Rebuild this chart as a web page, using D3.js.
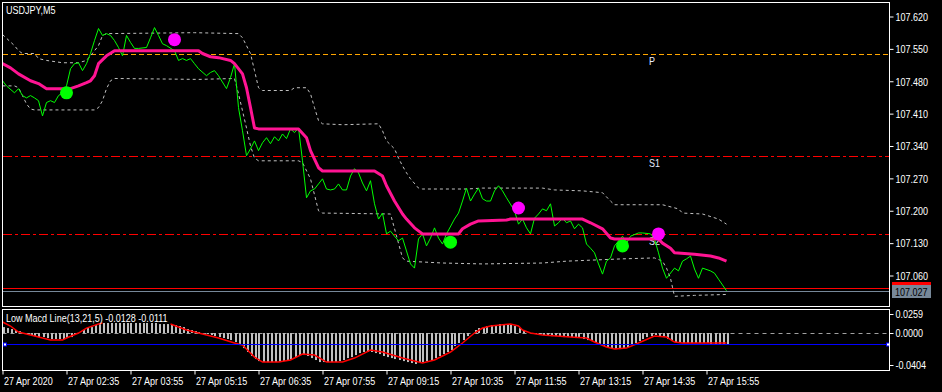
<!DOCTYPE html>
<html>
<head>
<meta charset="utf-8">
<script src="https://cdn.jsdelivr.net/npm/d3@7/dist/d3.min.js"></script>
<style>
  body { margin: 0; background: #000; }
  svg { display: block; }
  text { font-family: "Liberation Sans", sans-serif; fill: #fff; }
</style>
</head>
<body>
<script>
// ---- data (bar index = 5 min step from 27 Apr 01:15) ----
var timeTicks = [0, 16, 32, 48, 64, 80, 96, 112, 128, 144, 160, 176];
var timeLabels = ["27 Apr 2020", "27 Apr 02:35", "27 Apr 03:55", "27 Apr 05:15", "27 Apr 06:35",
  "27 Apr 07:55", "27 Apr 09:15", "27 Apr 10:35", "27 Apr 11:55", "27 Apr 13:15", "27 Apr 14:35", "27 Apr 15:55"];
var priceTicks = [107.62, 107.55, 107.48, 107.41, 107.34, 107.27, 107.20, 107.13, 107.06];

// close price line [bar, price]
var closeLine = [[0,107.481],[1,107.470],[3,107.455],[4,107.464],[5,107.449],[6,107.444],[7,107.449],[8,107.444],
  [9,107.438],[10,107.405],[11,107.434],[12,107.438],[13,107.434],[14,107.449],[15,107.455],[16,107.470],
  [17,107.507],[18,107.518],[19,107.520],[20,107.503],[21,107.518],[22,107.540],[23,107.568],[24,107.594],
  [25,107.579],[26,107.583],[27,107.579],[28,107.568],[29,107.553],[30,107.535],[31,107.579],[32,107.564],
  [33,107.551],[34,107.551],[36,107.553],[37,107.574],[38,107.596],[39,107.579],[40,107.561],[41,107.557],
  [43,107.546],[44,107.525],[45,107.529],[46,107.525],[47,107.529],[48,107.518],[49,107.507],[51,107.492],
  [52,107.499],[53,107.503],[54,107.492],[56,107.464],[57,107.488],[58,107.518],[59,107.423],[60,107.373],
  [61,107.319],[62,107.334],[63,107.351],[64,107.330],[65,107.347],[66,107.358],[67,107.345],[68,107.360],
  [69,107.351],[70,107.366],[71,107.356],[72,107.377],[73,107.369],[74,107.379],[75,107.308],[76,107.228],
  [77,107.243],[78,107.247],[79,107.258],[80,107.269],[81,107.247],[82,107.245],[83,107.247],[84,107.258],
  [85,107.245],[86,107.245],[87,107.275],[88,107.291],[89,107.282],[90,107.260],[91,107.243],[92,107.265],
  [93,107.215],[94,107.182],[95,107.195],[96,107.150],[97,107.156],[98,107.145],[99,107.135],[100,107.141],
  [101,107.113],[102,107.085],[103,107.076],[104,107.139],[105,107.150],[106,107.124],[107,107.141],[108,107.163],
  [109,107.141],[110,107.128],[111,107.150],[113,107.182],[114,107.195],[115,107.221],[116,107.249],[117,107.221],
  [118,107.236],[119,107.249],[120,107.226],[121,107.221],[122,107.221],[123,107.243],[124,107.254],[125,107.243],
  [126,107.228],[128,107.200],[129,107.171],[130,107.182],[131,107.163],[132,107.150],[133,107.184],[134,107.193],
  [135,107.204],[136,107.200],[137,107.215],[138,107.167],[139,107.174],[140,107.184],[141,107.174],[142,107.178],
  [143,107.161],[144,107.171],[145,107.163],[146,107.128],[147,107.119],[148,107.109],[149,107.085],[150,107.063],
  [151,107.091],[152,107.098],[153,107.124],[155,107.145],[156,107.130],[157,107.145],[159,107.152],[160,107.152],
  [162,107.150],[163,107.139],[164,107.109],[165,107.076],[166,107.054],[168,107.076],[169,107.070],[170,107.091],
  [171,107.096],[172,107.102],[173,107.074],[174,107.054],[175,107.076],[177,107.070],[178,107.065],[179,107.052],
  [181,107.027]];

// middle (thick pink) line
var midLine = [[0,107.518],[2,107.509],[4,107.496],[7,107.481],[9,107.475],[11,107.464],[17,107.464],[19,107.470],
  [21,107.477],[22,107.481],[23,107.492],[24,107.518],[26,107.535],[28,107.546],[49,107.546],[50,107.540],
  [52,107.533],[54,107.531],[57,107.525],[58,107.518],[60,107.496],[61,107.466],[62,107.423],[63,107.379],
  [64,107.377],[74,107.377],[76,107.358],[77,107.330],[79,107.293],[80,107.286],[93,107.286],[95,107.275],
  [96,107.254],[98,107.221],[100,107.193],[101,107.182],[103,107.163],[105,107.150],[114,107.150],[115,107.161],
  [117,107.171],[119,107.178],[126,107.180],[127,107.182],[145,107.182],[147,107.174],[150,107.161],[152,107.141],
  [153,107.139],[164,107.139],[165,107.130],[167,107.119],[168,107.109],[173,107.106],[177,107.102],[179,107.098],
  [181,107.091]];

// upper and lower band (dashed)
var upperBand = [[0,107.581],[3,107.557],[4,107.546],[5,107.540],[8,107.540],[9,107.529],[11,107.525],[15,107.520],
  [19,107.520],[21,107.525],[22,107.535],[24,107.557],[25,107.579],[26,107.583],[48,107.585],[59,107.583],
  [60,107.574],[62,107.540],[63,107.503],[64,107.466],[65,107.460],[72,107.460],[73,107.466],[76,107.466],
  [77,107.453],[78,107.423],[79,107.395],[80,107.388],[85,107.386],[94,107.388],[95,107.373],[96,107.351],
  [98,107.334],[99,107.314],[100,107.297],[101,107.282],[102,107.269],[104,107.249],[105,107.247],[116,107.247],
  [120,107.249],[135,107.249],[138,107.245],[145,107.243],[150,107.239],[152,107.221],[153,107.213],[165,107.213],
  [169,107.204],[170,107.195],[175,107.193],[179,107.182],[181,107.171]];
var lowerBand = [[0,107.470],[3,107.470],[4,107.466],[5,107.449],[6,107.431],[7,107.420],[8,107.418],[23,107.418],
  [24,107.423],[25,107.438],[26,107.464],[27,107.481],[28,107.486],[49,107.484],[58,107.486],[59,107.453],
  [60,107.416],[61,107.379],[62,107.340],[63,107.314],[64,107.308],[74,107.308],[75,107.304],[77,107.269],
  [79,107.200],[80,107.195],[97,107.193],[100,107.098],[101,107.091],[110,107.087],[120,107.085],[135,107.087],
  [141,107.091],[155,107.096],[163,107.098],[165,107.091],[166,107.076],[167,107.054],[168,107.015],[173,107.017],
  [181,107.019]];

// signal dots
var buyDots = [[16,107.455],[112,107.132],[155,107.124]];
var sellDots = [[43,107.570],[129,107.206],[164,107.150]];

// pivot levels
var levelNames = ["P", "S1", "S2"];
var levelValues = [107.538, 107.319, 107.149];
var bidPrice = 107.027, askPrice = 107.033;

// Low Macd Line subwindow
var macdHist = [0.0067,0.0056,0.0045,0.0034,0.0022,
  0.0000,-0.0011,-0.0022,-0.0034,-0.0045,-0.0045,
  -0.0056,-0.0067,-0.0067,-0.0067,-0.0067,
  -0.0056,-0.0045,-0.0022,0.0000,
  0.0034,0.0056,0.0067,
  0.0090,0.0101,0.0113,0.0113,0.0113,0.0113,0.0113,0.0113,0.0113,0.0113,0.0113,0.0113,0.0113,0.0113,0.0113,0.0113,
  0.0101,0.0101,0.0101,0.0101,
  0.0090,0.0079,0.0067,0.0045,0.0034,
  0.0022,0.0011,0.0000,
  -0.0011,-0.0022,-0.0034,-0.0045,-0.0056,-0.0067,-0.0079,-0.0101,
  -0.0135,-0.0169,-0.0213,-0.0258,-0.0292,
  -0.0315,-0.0326,-0.0326,-0.0326,-0.0326,-0.0326,-0.0315,-0.0303,-0.0292,-0.0270,
  -0.0247,-0.0247,-0.0258,-0.0281,-0.0303,
  -0.0326,-0.0326,-0.0326,-0.0326,-0.0326,-0.0315,
  -0.0303,-0.0281,-0.0270,-0.0247,-0.0225,-0.0213,-0.0213,
  -0.0213,-0.0225,-0.0236,-0.0258,-0.0270,-0.0281,-0.0292,-0.0303,
  -0.0315,-0.0326,-0.0337,-0.0348,-0.0337,
  -0.0326,-0.0315,-0.0303,-0.0281,-0.0258,-0.0236,-0.0213,-0.0191,
  -0.0146,-0.0112,-0.0079,-0.0034,
  0.0000,0.0034,0.0056,
  0.0067,0.0079,0.0090,0.0090,0.0101,0.0101,0.0101,0.0101,
  0.0079,0.0056,0.0034,
  0.0000,-0.0011,-0.0011,-0.0022,-0.0022,-0.0022,-0.0034,-0.0034,-0.0034,-0.0045,-0.0045,
  -0.0045,-0.0056,-0.0056,-0.0067,-0.0079,-0.0090,-0.0101,
  -0.0124,-0.0146,-0.0157,-0.0169,-0.0180,-0.0180,
  -0.0169,-0.0157,-0.0135,-0.0112,
  -0.0090,-0.0067,-0.0045,-0.0034,-0.0022,
  -0.0034,-0.0045,-0.0067,-0.0090,
  -0.0101,-0.0112,-0.0112,-0.0112,-0.0112,-0.0112,-0.0112,-0.0112,-0.0112,-0.0124,-0.0124,-0.0124,-0.0124,-0.0128];
// red line, null = not drawn
var macdSignal = [[0,0.0124],[2,0.0079],[4,0.0011],[7,-0.0022],[10,-0.0056],[12,-0.0079],[15,-0.0079],[16,-0.0056],
  [19,0.0000],[21,0.0056],[24,0.0101],[25,0.0113],[33,null],
  [42,0.0101],[46,0.0034],[50,-0.0011],[54,-0.0056],[58,-0.0112],[60,-0.0135],[63,-0.0270],[65,-0.0326],
  [69,-0.0326],[72,-0.0303],[75,-0.0236],[78,-0.0247],[81,-0.0326],[85,-0.0326],[88,-0.0281],[92,-0.0191],
  [95,-0.0213],[100,-0.0281],[105,-0.0337],[108,-0.0303],[112,-0.0213],[115,-0.0112],[118,0.0000],[120,0.0056],
  [122,0.0079],[127,0.0101],[129,0.0079],[130,0.0034],[132,0.0000],[135,-0.0022],[142,-0.0045],[146,-0.0056],
  [148,-0.0101],[151,-0.0157],[153,-0.0180],[156,-0.0169],[159,-0.0112],[163,-0.0034],[166,-0.0045],[168,-0.0101],
  [170,-0.0112],[174,-0.0112],[177,-0.0112],[181,-0.0111]];
var macdTicks = [0.0259, 0.0000, -0.0404];
var macdLevel = -0.0128;

// ---- layout ----
var svgWidth = 942;
var svgHeight = 392;
var mainTop = 2.5, mainBottom = 306.5, subTop = 309.5, subBottom = 370.5;
var leftEdge = 2.5, rightEdge = 889.5;

var svg = d3.select("body")
  .append("svg")
  .attr("width", svgWidth)
  .attr("height", svgHeight)
  .style("background", "#000");

var xScale = d3.scaleLinear().domain([0, 181]).range([2.5, 726.5]);
var yPrice = d3.scaleLinear().domain([107.06, 107.62]).range([275.5, 16.5]);
var yMacd = d3.scaleLinear().domain([-0.0404, 0.0259]).range([369, 310]);

// clip for both panels
var defs = svg.append("defs");
defs.append("clipPath").attr("id", "clipMain").append("rect")
  .attr("x", leftEdge).attr("y", mainTop).attr("width", rightEdge - leftEdge).attr("height", mainBottom - mainTop);
defs.append("clipPath").attr("id", "clipSub").append("rect")
  .attr("x", leftEdge).attr("y", subTop).attr("width", rightEdge - leftEdge).attr("height", subBottom - subTop);

var mainGroup = svg.append("g").attr("clip-path", "url(#clipMain)");
var subGroup = svg.append("g").attr("clip-path", "url(#clipSub)");

// pivot levels
levelValues.forEach(function(v, i) {
  var ly = Math.round(yPrice(v)) + 0.5;
  mainGroup.append("line")
    .attr("x1", leftEdge).attr("x2", rightEdge)
    .attr("y1", ly).attr("y2", ly)
    .attr("stroke", i === 0 ? "#ffa500" : "#ff0000")
    .attr("stroke-width", 1)
    .attr("shape-rendering", "crispEdges")
    .attr("stroke-dasharray", i === 0 ? "5,3" : "9,3,3,3");
  mainGroup.append("text")
    .attr("x", 649)
    .attr("y", ly + 10)
    .attr("font-size", "11px")
    .style("fill", "#e8ecff")
    .text(levelNames[i]);
});

// ask / bid lines
mainGroup.append("line")
  .attr("x1", leftEdge).attr("x2", rightEdge)
  .attr("y1", Math.round(yPrice(askPrice)) + 0.5).attr("y2", Math.round(yPrice(askPrice)) + 0.5)
  .attr("stroke", "#ff0000");
mainGroup.append("line")
  .attr("x1", leftEdge).attr("x2", rightEdge)
  .attr("y1", Math.round(yPrice(bidPrice)) + 0.5).attr("y2", Math.round(yPrice(bidPrice)) + 0.5)
  .attr("stroke", "#778899");

var priceLine = d3.line()
  .x(d => xScale(d[0]))
  .y(d => yPrice(d[1]));

// bands
[upperBand, lowerBand].forEach(function(band) {
  mainGroup.append("path")
    .datum(band)
    .attr("d", priceLine)
    .attr("fill", "none")
    .attr("stroke", "#c0c0c0")
    .attr("stroke-width", 1)
    .attr("stroke-dasharray", "3,3");
});

// close price
mainGroup.append("path")
  .datum(closeLine)
  .attr("d", priceLine)
  .attr("fill", "none")
  .attr("stroke", "#00ff00")
  .attr("stroke-width", 1);

// middle line
mainGroup.append("path")
  .datum(midLine)
  .attr("d", priceLine)
  .attr("fill", "none")
  .attr("stroke", "#ff1493")
  .attr("stroke-width", 3)
  .attr("stroke-linejoin", "round");

// dots
mainGroup.selectAll(".buy")
  .data(buyDots)
  .enter()
  .append("circle")
  .attr("cx", d => xScale(d[0]))
  .attr("cy", d => yPrice(d[1]))
  .attr("r", 6.5)
  .attr("fill", "#00ff00");
mainGroup.selectAll(".sell")
  .data(sellDots)
  .enter()
  .append("circle")
  .attr("cx", d => xScale(d[0]))
  .attr("cy", d => yPrice(d[1]))
  .attr("r", 6.5)
  .attr("fill", "#ff00ff");

// ---- macd subwindow ----
subGroup.append("line")
  .attr("x1", leftEdge).attr("x2", rightEdge)
  .attr("y1", Math.round(yMacd(0)) + 0.5).attr("y2", Math.round(yMacd(0)) + 0.5)
  .attr("stroke", "#a0a0a0")
  .attr("stroke-dasharray", "4,4");

subGroup.selectAll(".bar")
  .data(macdHist)
  .enter()
  .append("rect")
  .attr("x", (d, i) => Math.round(xScale(i)))
  .attr("width", 2)
  .attr("y", d => Math.min(yMacd(d), yMacd(0)))
  .attr("height", d => Math.abs(yMacd(d) - yMacd(0)))
  .attr("fill", "#c0c0c0");

subGroup.append("path")
  .datum(macdSignal)
  .attr("d", d3.line()
    .defined(d => d[1] !== null)
    .x(d => xScale(d[0]))
    .y(d => yMacd(d[1])))
  .attr("fill", "none")
  .attr("stroke", "#ff0000")
  .attr("stroke-width", 1.5);

var levelY = Math.round(yMacd(macdLevel)) + 0.5;
subGroup.append("line")
  .attr("x1", leftEdge).attr("x2", rightEdge)
  .attr("y1", levelY).attr("y2", levelY)
  .attr("stroke", "#0000ff");
[leftEdge + 1, rightEdge - 3].forEach(function(x) {
  svg.append("rect")
    .attr("x", x).attr("y", levelY - 1.5).attr("width", 3).attr("height", 3)
    .attr("fill", "#fff").attr("stroke", "#0000ff").attr("stroke-width", 1);
});

// ---- frames ----
svg.append("rect")
  .attr("x", leftEdge).attr("y", mainTop)
  .attr("width", rightEdge - leftEdge).attr("height", mainBottom - mainTop)
  .attr("fill", "none").attr("stroke", "#fff");
svg.append("rect")
  .attr("x", leftEdge).attr("y", subTop)
  .attr("width", rightEdge - leftEdge).attr("height", subBottom - subTop)
  .attr("fill", "none").attr("stroke", "#fff");

// ---- axes ----
var priceAxis = svg.append("g")
  .attr("transform", `translate(${rightEdge}, 0)`)
  .call(d3.axisRight(yPrice).tickValues(priceTicks).tickSize(4).tickPadding(2).tickFormat(d3.format(".3f")));

// macd axis: outer labels sit inside the window edges
var macdPos = [314.5, Math.round(yMacd(0)) + 0.5, 365.5];
var macdAxis = svg.append("g").attr("transform", `translate(${rightEdge}, 0)`);
macdTicks.forEach(function(v, i) {
  macdAxis.append("line").attr("x1", 0).attr("x2", 4).attr("y1", macdPos[i]).attr("y2", macdPos[i]).attr("stroke", "#fff");
  macdAxis.append("text").attr("x", 6).attr("y", macdPos[i]).attr("dy", "0.35em")
    .attr("font-size", "11px").text(d3.format(".4f")(v).replace("\u2212", "-"));
});

var timeAxis = svg.append("g")
  .attr("transform", `translate(0, ${subBottom})`)
  .call(d3.axisBottom(xScale).tickValues(timeTicks).tickSize(4).tickPadding(3)
    .tickFormat((d, i) => timeLabels[i]));

[priceAxis, timeAxis].forEach(function(ax) {
  ax.select(".domain").remove();
  ax.selectAll("line").attr("stroke", "#fff");
  ax.selectAll("text").attr("fill", "#fff").attr("font-size", "11px")
    .attr("font-family", "'Liberation Sans', sans-serif");
});
priceAxis.selectAll("text").attr("dy", "0.35em");
timeAxis.selectAll("text").attr("text-anchor", "start").attr("x", 1).attr("dy", "0.71em");

// current price labels (ask box mostly hidden under the bid box)
svg.append("rect").attr("x", 892).attr("y", 282).attr("width", 39).attr("height", 13).attr("fill", "#ff0000");
svg.append("rect").attr("x", 892).attr("y", 285).attr("width", 39).attr("height", 13).attr("fill", "#778899");
svg.append("text").attr("x", 895).attr("y", 295.5).attr("font-size", "11px").style("fill", "#000").text(bidPrice.toFixed(3));

// titles
svg.append("text").attr("x", 6).attr("y", 13.5).attr("font-size", "11px").text("USDJPY,M5");
svg.append("text").attr("x", 6).attr("y", 322).attr("font-size", "11px")
  .text("Low Macd Line(13,21,5) " + macdHist[macdHist.length - 1].toFixed(4) + " " + macdSignal[macdSignal.length - 1][1].toFixed(4));

// terminal font is narrower than Liberation Sans: squeeze every label
svg.selectAll("text").each(function() {
  var w = this.getComputedTextLength();
  d3.select(this).attr("textLength", (w * 0.82).toFixed(1)).attr("lengthAdjust", "spacingAndGlyphs");
});
</script>
</body>
</html>
